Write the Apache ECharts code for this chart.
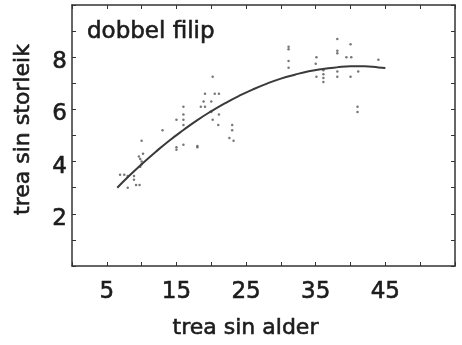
<!DOCTYPE html>
<html>
<head>
<meta charset="utf-8">
<script src="https://cdn.jsdelivr.net/npm/echarts@6/dist/echarts.min.js"></script>
<style>html,body{margin:0;padding:0;background:#fff;}#c{width:462px;height:345px;}</style>
</head>
<body>
<div id="c"></div>
<script>
const titleText = 'dobbel filip';
const xName = 'trea sin alder';
const yName = 'trea sin storleik';
const xTickLabels = [5, 15, 25, 35, 45];
const yTickLabels = [2, 4, 6, 8];

const pointAge = [6.9,7.5,8.0,8.9,8.9,9.2,9.7,8.0,
  9.6,9.8,10.0,10.0,9.8,10.2,10.0,
  13,15,15,16,18,18,15,16,16,16,16,18.5,19.1,18.9,19.1,20,20.2,20.5,21.1,20,20.2,21.1,21,23,23,22.6,23.2,
  31.1,31.1,31.1,31.1,
  35.1,35,35.1,36.1,36.1,36.1,36.1,38.1,38.1,38.1,39.4,40.1,40,44,38.1,38.1,40,41.1,41,41];
const pointSize = [3.5,3.5,3.45,3.45,3.3,3.1,3.1,3.0,
  4.2,4.1,4.0,3.9,3.8,4.3,4.8,
  5.2,4.55,4.45,4.65,4.6,4.55,5.6,5.4,5.6,5.8,6.1,6.1,6.1,6.3,6.6,6.3,7.25,6.6,6.6,5.9,5.6,5.8,5.4,5.4,5.2,4.9,4.8,
  8.4,8.3,7.85,7.6,
  8.0,7.75,7.25,7.5,7.35,7.2,7.05,8.7,8.25,8.15,8.0,8.0,8.5,7.9,7.45,7.25,7.25,7.45,6.1,5.9];

const curveAge = [6.5,8,10,12,14,16,18,20,22,24,26,28,30,32,34,36,38,40,42,44,45];
const curveSize = [3.0,3.4,3.9,4.37,4.81,5.21,5.59,5.93,6.24,6.52,6.77,6.99,7.18,7.33,7.46,7.55,7.61,7.65,7.65,7.61,7.59];

const font = 'DejaVu Sans';
const ink = '#1c1c1c';
const axisCol = '#333';
const heavy = {textBorderColor: ink, textBorderWidth: 0.6};

const scatterData = pointAge.map((a, i) => [a, pointSize[i]]);
const curveData = curveAge.map((a, i) => [a, curveSize[i]]);

const baseX = {
  type: 'value', min: 0, max: 55, interval: 5,
  axisLine: {show: true, onZero: false, lineStyle: {color: axisCol, width: 1.5}},
  axisTick: {show: true, inside: true, length: 4, lineStyle: {color: axisCol, width: 1}},
  splitLine: {show: false}
};
const baseY = {
  type: 'value', min: 0, max: 10, interval: 1,
  axisLine: {show: true, onZero: false, lineStyle: {color: axisCol, width: 1.5}},
  axisTick: {show: true, inside: true, length: 4, lineStyle: {color: axisCol, width: 1}},
  splitLine: {show: false}
};

const chart = echarts.init(document.getElementById('c'), null, {renderer: 'canvas'});
chart.setOption({
  backgroundColor: '#fff',
  animation: false,
  title: {
    text: titleText, left: 82, top: 16,
    textStyle: Object.assign({fontFamily: font, fontSize: 23, fontWeight: 'normal', color: ink}, heavy)
  },
  grid: {left: 72, right: 7, top: 5, bottom: 79},
  xAxis: [
    Object.assign({}, baseX, {
      position: 'bottom',
      name: xName, nameLocation: 'middle', nameGap: 51,
      nameTextStyle: Object.assign({fontFamily: font, fontSize: 22, color: ink, padding: [0, 36, 0, 0]}, heavy),
      axisLabel: Object.assign({
        show: true, margin: 15, fontFamily: font, fontSize: 23, color: ink,
        formatter: v => xTickLabels.indexOf(v) >= 0 ? String(v) : ''
      }, heavy)
    }),
    Object.assign({}, baseX, {position: 'top', axisLabel: {show: false}})
  ],
  yAxis: [
    Object.assign({}, baseY, {
      position: 'left',
      name: yName, nameLocation: 'middle', nameGap: 38,
      nameTextStyle: Object.assign({fontFamily: font, fontSize: 22, color: ink, padding: [0, 0, 0, 12]}, heavy),
      axisLabel: {
        show: true, margin: 5,
        formatter: v => yTickLabels.indexOf(v) >= 0 ? '{d|' + v + '}' : '',
        rich: {d: Object.assign({fontFamily: font, fontSize: 23, color: ink, padding: [10, 0, 0, 0]}, heavy)}
      }
    }),
    Object.assign({}, baseY, {position: 'right', axisLabel: {show: false}})
  ],
  series: [
    {
      type: 'scatter', xAxisIndex: 0, yAxisIndex: 0,
      data: scatterData, symbol: 'circle', symbolSize: 2.5,
      itemStyle: {color: '#555'}
    },
    {
      type: 'line', xAxisIndex: 0, yAxisIndex: 0,
      data: curveData, smooth: true, showSymbol: false,
      lineStyle: {color: '#3a3a3a', width: 2}
    }
  ]
});
</script>
</body>
</html>
